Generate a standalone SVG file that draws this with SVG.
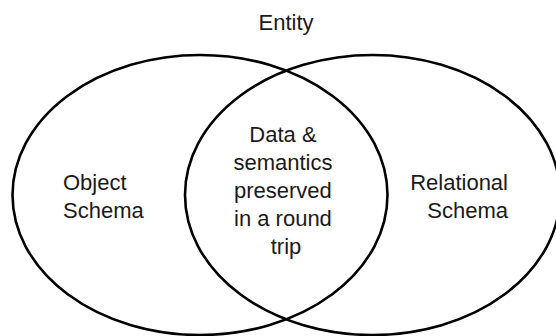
<svg xmlns="http://www.w3.org/2000/svg" width="556" height="336" viewBox="0 0 556 336">
  <style>
    .set { fill: none; stroke: #000; stroke-width: 2.6; }
    .lbl { font-family: "Liberation Sans", Arial, Helvetica, sans-serif; font-size: 22px; fill: #1a1a1a; }
  </style>
  <rect width="556" height="336" fill="#fff"/>
  <g id="entity-title">
    <text class="lbl" x="286" y="30" text-anchor="middle">Entity</text>
  </g>
  <g id="object-schema">
    <ellipse class="set" cx="200" cy="195" rx="187.5" ry="140"/>
    <text class="lbl" x="63" y="190">Object</text>
    <text class="lbl" x="63" y="218">Schema</text>
  </g>
  <g id="relational-schema">
    <ellipse class="set" cx="372.5" cy="195" rx="187.5" ry="140"/>
    <text class="lbl" x="508" y="190" text-anchor="end">Relational</text>
    <text class="lbl" x="508" y="218" text-anchor="end">Schema</text>
  </g>
  <g id="round-trip">
    <text class="lbl" x="286" text-anchor="middle">
      <tspan x="286" y="142">Data &amp;</tspan>
      <tspan x="286" y="170">semantics</tspan>
      <tspan x="286" y="198">preserved</tspan>
      <tspan x="286" y="226">in a round</tspan>
      <tspan x="286" y="254">trip</tspan>
    </text>
  </g>
  <g id="connectors"/>
</svg>
